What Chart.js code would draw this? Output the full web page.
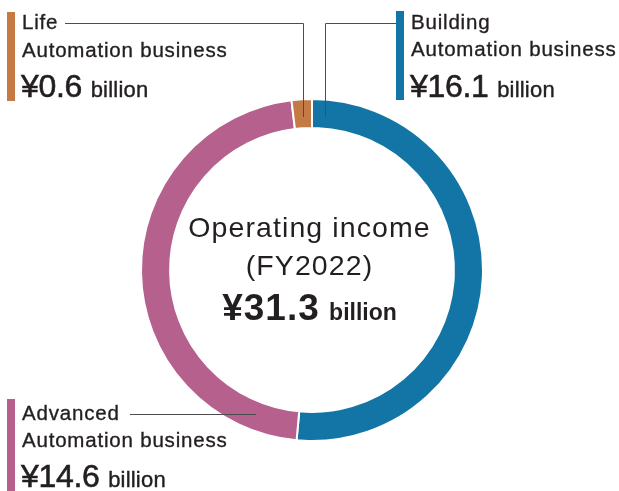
<!DOCTYPE html>
<html>
<head>
<meta charset="utf-8">
<script src="https://cdn.jsdelivr.net/npm/chart.js@4.4.1/dist/chart.umd.min.js"></script>
<style>
  html, body { margin: 0; padding: 0; background: #fff; }
  #wrap { position: relative; width: 619px; height: 491px; overflow: hidden; font-family: "Liberation Sans", Arial, sans-serif; color: #231f20; }
  #chart { position: absolute; left: 0; top: 0; }
  .bar { position: absolute; width: 8px; }
  .t { position: absolute; white-space: nowrap; line-height: 1; -webkit-text-stroke: 0.35px #231f20; }
  .name { font-size: 20.5px; letter-spacing: 0.8px; }
  .amt { font-size: 32px; letter-spacing: -0.3px; -webkit-text-stroke: 0.6px #231f20; }
  .amt small { font-size: 22px; letter-spacing: 0.2px; margin-left: 0px; -webkit-text-stroke: 0.4px #231f20; }
  .center { width: 619px; left: 0; text-align: center; }
  .light { -webkit-text-stroke: 0; }
</style>
</head>
<body>
<div id="wrap">
  <canvas id="chart" width="619" height="491"></canvas>

  <div class="bar" style="left:7px;top:12px;height:89px;background:#c37a45"></div>
  <div class="t name" style="left:22px;top:12px">Life</div>
  <div class="t name" style="left:22px;top:40px">Automation business</div>
  <div class="t amt" style="left:21px;top:70px">¥0.6 <small>billion</small></div>

  <div class="bar" style="left:396px;top:11px;height:89px;background:#1375a5"></div>
  <div class="t name" style="left:411px;top:12px">Building</div>
  <div class="t name" style="left:411px;top:39px">Automation business</div>
  <div class="t amt" style="left:410px;top:70px">¥16.1 <small>billion</small></div>

  <div class="bar" style="left:7px;top:399px;height:92px;background:#b5608d"></div>
  <div class="t name" style="left:22px;top:403px">Advanced</div>
  <div class="t name" style="left:22px;top:430px">Automation business</div>
  <div class="t amt" style="left:21px;top:460px">¥14.6 <small>billion</small></div>

  <div class="t center light" style="top:213px;font-size:28.5px;letter-spacing:1.1px;">Operating income</div>
  <div class="t center light" style="top:251px;font-size:28.5px;letter-spacing:1.1px;">(FY2022)</div>
  <div class="t center" style="top:289px;font-size:37px;font-weight:bold;letter-spacing:1px;-webkit-text-stroke:0;">¥31.3 <span style="font-size:23px;letter-spacing:0;margin-left:-2px">billion</span></div>
</div>
<script>
const segments = ['Building Automation business', 'Advanced Automation business', 'Life Automation business'];
const income = [16.1, 14.6, 0.6];
const segmentColors = ['#1375a5', '#b5608d', '#c37a45'];

// thin grey leader lines from the labels into the ring
const leaderLines = {
    id: 'leaderLines',
    afterDatasetsDraw(chart) {
        const ctx = chart.ctx;
        const arcs = chart.getDatasetMeta(0).data;
        const life = arcs[2].getCenterPoint();
        ctx.save();
        ctx.strokeStyle = '#4d4d4f';
        ctx.lineWidth = 1;
        ctx.beginPath();
        // Life
        ctx.moveTo(65, 23.5);
        ctx.lineTo(Math.round(life.x) + 0.5, 23.5);
        ctx.lineTo(Math.round(life.x) + 0.5, 117);
        // Building
        ctx.moveTo(325.5, 117);
        ctx.lineTo(325.5, 23.5);
        ctx.lineTo(396, 23.5);
        // Advanced
        ctx.moveTo(130, 414.5);
        ctx.lineTo(256, 414.5);
        ctx.stroke();
        ctx.restore();
    }
};

new Chart(document.getElementById('chart'), {
    type: 'doughnut',
    data: {
        labels: segments,
        datasets: [{
            data: income,
            backgroundColor: segmentColors,
            borderColor: '#ffffff',
            borderWidth: 2,
            hoverOffset: 0
        }]
    },
    options: {
        responsive: false,
        animation: false,
        cutout: '83%',
        layout: { padding: { left: 140, right: 135, top: 98, bottom: 49 } },
        plugins: {
            legend: { display: false },
            tooltip: { enabled: false }
        }
    },
    plugins: [leaderLines]
});
</script>
</body>
</html>
